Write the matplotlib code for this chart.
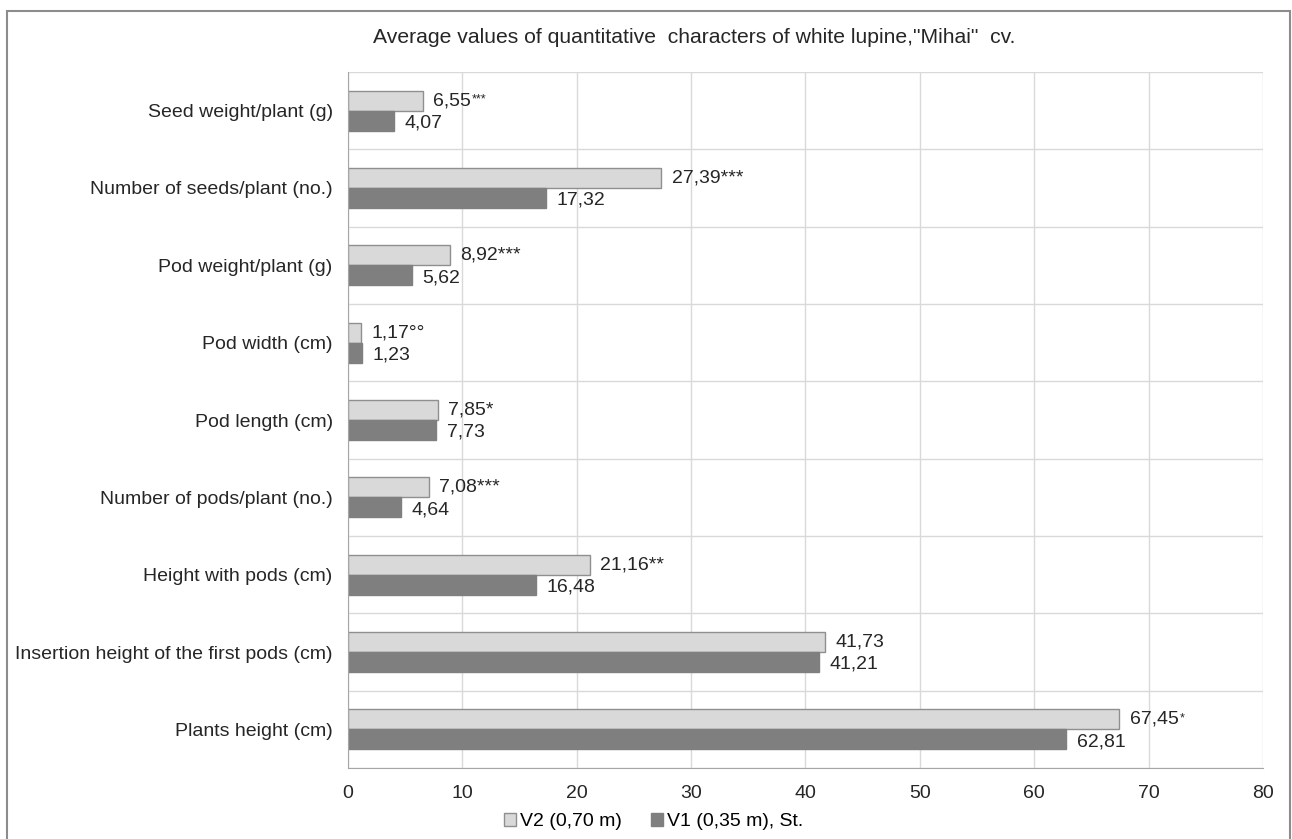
import matplotlib.pyplot as plt
import numpy as np
from matplotlib.patches import Rectangle

plt.rcParams["font.family"] = ["Liberation Sans", "DejaVu Sans"]
plt.rcParams["font.size"] = 14

categories = ['Seed weight/plant (g)', 'Number of seeds/plant (no.)',
              'Pod weight/plant (g)', 'Pod width (cm)', 'Pod length (cm)',
              'Number of pods/plant (no.)', 'Height with pods (cm)',
              'Insertion height of the first pods (cm)', 'Plants height (cm)']
v2 = [6.55, 27.39, 8.92, 1.17, 7.85, 7.08, 21.16, 41.73, 67.45]
v1 = [4.07, 17.32, 5.62, 1.23, 7.73, 4.64, 16.48, 41.21, 62.81]
v2_labels = ['6,55', '27,39***', '8,92***', '1,17°°', '7,85*', '7,08***', '21,16**',
             '41,73', '67,45']
v2_sup = ['***', '', '', '', '', '', '', '', '*']
v1_labels = ['4,07', '17,32', '5,62', '1,23', '7,73', '4,64', '16,48', '41,21', '62,81']

fig = plt.figure(figsize=(12.92, 8.39), dpi=100)
ax = fig.add_axes([0.2693, 0.0846, 0.7083, 0.8296])
fig.patches.append(Rectangle((0.0054, -0.01), 0.9930, 1.0017 - 0.0054, transform=fig.transFigure,
                             fill=False, edgecolor='#8c8c8c', linewidth=1.5))

y = np.arange(len(categories))
h = 0.26
ax.barh(y - h / 2, v2, height=h, color='#d9d9d9', edgecolor='#8f8f8f', linewidth=1,
        label='V2 (0,70 m)')
ax.barh(y + h / 2, v1, height=h, color='#7f7f7f', edgecolor='#7f7f7f', linewidth=1,
        label='V1 (0,35 m), St.')

main_texts = []
for i in range(len(categories)):
    t = ax.text(v2[i] + 0.9, y[i] - h / 2, v2_labels[i], va='center',
                ha='left', fontsize=14, color='#262626')
    main_texts.append(t)
    ax.text(v1[i] + 0.9, y[i] + h / 2 + 0.03, v1_labels[i], va='center',
            ha='left', fontsize=14, color='#262626')

ax.set_xlim(0, 80)
ax.set_ylim(len(categories) - 0.5, -0.5)
ax.set_xticks(np.arange(0, 81, 10))
ax.set_yticks(y)
ax.set_yticklabels(categories)
ax.set_yticks(np.arange(-0.5, len(categories), 1), minor=True)
ax.tick_params(axis='both', which='both', length=0, labelsize=14, colors='#262626')
ax.tick_params(axis='x', pad=12)
ax.tick_params(axis='y', pad=11)
ax.grid(axis='x', color='#d9d9d9', linewidth=1)
ax.grid(axis='y', which='minor', color='#d9d9d9', linewidth=1)
ax.set_axisbelow(True)
for s in ['top', 'right']:
    ax.spines[s].set_visible(False)
ax.spines['left'].set_color('#a6a6a6')
ax.spines['bottom'].set_color('#a6a6a6')

fig.text(0.537, 0.955, 'Average values of quantitative  characters of white lupine,"Mihai"  cv.',
         fontsize=15.2, color='#262626', ha='center', va='center')
ax.legend(loc='upper center', bbox_to_anchor=(0.334, -0.04), ncol=2, frameon=False,
          fontsize=14, handlelength=0.6, handleheight=0.6, handletextpad=0.2,
          columnspacing=1.5)

# small raised stars after some labels
fig.canvas.draw()
r = fig.canvas.get_renderer()
for t, s in zip(main_texts, v2_sup):
    if s:
        bb = t.get_window_extent(r)
        ax.annotate(s, xy=(bb.x1, bb.y1), xycoords='figure pixels',
                    xytext=(0.5, -1), textcoords='offset points',
                    ha='left', va='top', fontsize=9, color='#262626')

plt.savefig('out.png', dpi=100)
